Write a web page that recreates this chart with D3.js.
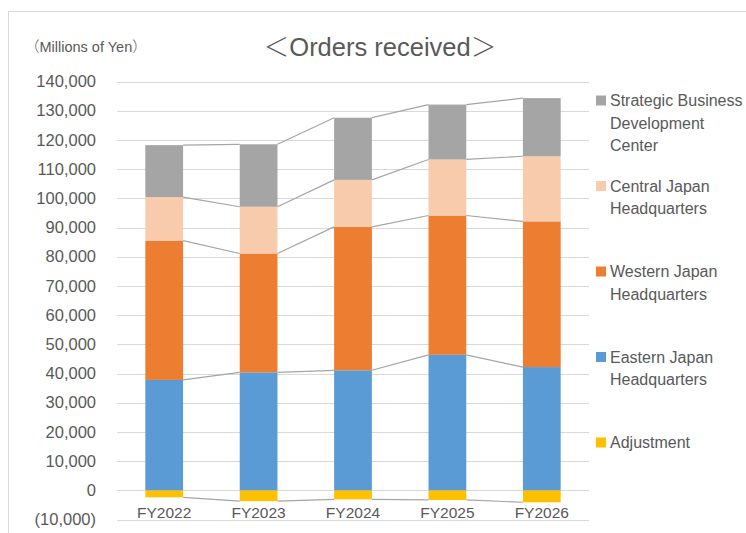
<!DOCTYPE html>
<html>
<head>
<meta charset="utf-8">
<script src="https://cdn.jsdelivr.net/npm/d3@7"></script>
<style>
  body { margin: 0; background: #fff; }
  svg text { font-family: "Liberation Sans", Arial, sans-serif; fill: #595959; }
  svg tspan.cjk { font-family: "Noto Sans CJK JP", sans-serif; font-weight: 300; }
</style>
</head>
<body>
<div id="chart"></div>
<script>
// --- Data (millions of yen) ---
const years = ["FY2022", "FY2023", "FY2024", "FY2025", "FY2026"];
const adjustment = [-2400, -3700, -3100, -3300, -4100];
const eastern = [37800, 40400, 41100, 46400, 42200];
const western = [47700, 40700, 49100, 47700, 49900];
const central = [14900, 16000, 16100, 19200, 22300];
const strategic = [17800, 21400, 21300, 18800, 19900];
const yTicks = [-10000, 0, 10000, 20000, 30000, 40000, 50000, 60000, 70000,
                80000, 90000, 100000, 110000, 120000, 130000, 140000];

// stack order, bottom to top
const seriesKeys = ["adjustment", "eastern", "western", "central", "strategic"];
const seriesColors = {
    adjustment: "#ffc000", eastern: "#5b9bd5", western: "#ed7d31",
    central: "#f8cbad", strategic: "#a5a5a5"
};
// legend, top to bottom
const legendKeys = ["strategic", "central", "western", "eastern", "adjustment"];
const legendLabels = [
    ["Strategic Business", "Development", "Center"],
    ["Central Japan", "Headquarters"],
    ["Western Japan", "Headquarters"],
    ["Eastern Japan", "Headquarters"],
    ["Adjustment"]
];

const rows = years.map((year, i) => ({
    year: year,
    adjustment: adjustment[i],
    eastern: eastern[i],
    western: western[i],
    central: central[i],
    strategic: strategic[i]
}));

const width = 746, height = 533;
const svg = d3.select("#chart").append("svg")
    .attr("width", width)
    .attr("height", height);

// outer chart frame (runs off the right and bottom edges)
svg.append("rect")
    .attr("x", 8.5).attr("y", 11.5)
    .attr("width", 800).attr("height", 600)
    .attr("fill", "none")
    .attr("stroke", "#d9d9d9");

const x = d3.scaleBand().domain(years).range([117, 589]).paddingInner(0.6).paddingOuter(0.3);
const y = d3.scaleLinear().domain([-10000, 140000]).range([519.5, 81.5]);

// gridlines
svg.append("g").selectAll("line")
    .data(yTicks)
    .enter().append("line")
    .attr("x1", 117).attr("x2", 589)
    .attr("y1", d => Math.round(y(d)) + 0.5)
    .attr("y2", d => Math.round(y(d)) + 0.5)
    .attr("stroke", "#d9d9d9")
    .attr("stroke-width", 1);

// y tick labels
const fmt = d3.format(",");
svg.append("g").selectAll("text")
    .data(yTicks)
    .enter().append("text")
    .attr("x", 96)
    .attr("y", d => y(d))
    .attr("dy", "0.35em")
    .attr("text-anchor", "end")
    .style("font-size", "16.5px")
    .text(d => d < 0 ? `(${fmt(-d)})` : fmt(d));

// stacked bars
const stack = d3.stack().keys(seriesKeys).offset(d3.stackOffsetDiverging);
const layers = stack(rows);

svg.append("g").selectAll("g")
    .data(layers)
    .enter().append("g")
    .attr("fill", d => seriesColors[d.key])
    .selectAll("rect")
    .data(d => d)
    .enter().append("rect")
    .attr("x", d => x(d.data.year))
    .attr("width", x.bandwidth())
    .attr("y", d => y(Math.max(d[0], d[1])))
    .attr("height", d => Math.abs(y(d[0]) - y(d[1])));

// series lines between bars (outer edge of each layer)
const lines = svg.append("g")
    .attr("stroke", "#a5a5a5")
    .attr("stroke-width", 1.2)
    .attr("fill", "none");
layers.forEach(layer => {
    const edge = d => (layer.key === "adjustment" ? d[0] : d[1]);
    for (let i = 0; i < layer.length - 1; i++) {
        const a = layer[i], b = layer[i + 1];
        lines.append("line")
            .attr("x1", x(a.data.year) + x.bandwidth())
            .attr("y1", y(edge(a)))
            .attr("x2", x(b.data.year))
            .attr("y2", y(edge(b)));
    }
});

// x labels
svg.append("g").selectAll("text")
    .data(years)
    .enter().append("text")
    .attr("x", d => x(d) + x.bandwidth() / 2)
    .attr("y", 513)
    .attr("dy", "0.35em")
    .attr("text-anchor", "middle")
    .style("font-size", "15.5px")
    .text(d => d);

// title + unit (full-width brackets drawn with the CJK font)
const title = svg.append("text")
    .attr("x", 380).attr("y", 47)
    .attr("dy", "0.35em")
    .attr("text-anchor", "middle")
    .style("font-size", "25.5px");
title.append("tspan").attr("class", "cjk").text("＜");
title.append("tspan").text("Orders received");
title.append("tspan").attr("class", "cjk").text("＞");

const unit = svg.append("text")
    .attr("x", 25).attr("y", 47)
    .attr("dy", "0.35em")
    .style("font-size", "14.5px");
unit.append("tspan").attr("class", "cjk").text("（");
unit.append("tspan").text("Millions of Yen");
unit.append("tspan").attr("class", "cjk").text("）");

// legend
const legend = svg.append("g");
legendKeys.forEach((key, i) => {
    const top = 100.5 + i * 85.5;
    legend.append("rect")
        .attr("x", 596).attr("y", top - 5)
        .attr("width", 10).attr("height", 10)
        .attr("fill", seriesColors[key]);
    const t = legend.append("text")
        .attr("x", 610).attr("y", top)
        .style("font-size", "16px");
    legendLabels[i].forEach((line, j) => {
        t.append("tspan")
            .attr("x", 610)
            .attr("y", top + j * 22.5)
            .attr("dy", "0.35em")
            .text(line);
    });
});
</script>
</body>
</html>
